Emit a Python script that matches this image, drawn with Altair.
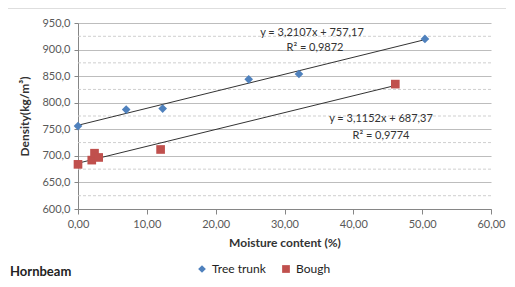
import altair as alt
import pandas as pd

# ---- data ----
trunk_x = [0.0, 7.0, 12.3, 24.8, 32.1, 50.4]
trunk_y = [756, 787, 789, 844, 854, 920]
bough_x = [0.0, 2.0, 2.4, 3.0, 12.0, 46.1]
bough_y = [684, 692, 705, 697, 712, 835]
series = ["Tree trunk", "Bough"]
colors = ["#4F81BD", "#C0504D"]
shapes = ["diamond", "square"]
x_ticks = [0, 10, 20, 30, 40, 50, 60]
y_ticks = [600, 650, 700, 750, 800, 850, 900, 950]
minor_grid = [625, 675, 725, 775, 825, 875, 925]
eq_trunk = ["y = 3,2107x + 757,17", "R² = 0,9872"]
eq_bough = ["y = 3,1152x + 687,37", "R² = 0,9774"]
chart_label = "Hornbeam"

df = pd.DataFrame({
    "x": trunk_x + bough_x,
    "y": trunk_y + bough_y,
    "series": [series[0]] * len(trunk_x) + [series[1]] * len(bough_x),
})
minor_df = pd.DataFrame({"y": minor_grid})

FONT = "Lato"
xscale = alt.Scale(domain=[0, 60], nice=False)
yscale = alt.Scale(domain=[600, 950], nice=False, zero=False)

xaxis = alt.Axis(
    values=x_ticks, title="Moisture content (%)",
    labelExpr="replace(format(datum.value, '.2f'), '.', ',')",
    grid=False, domainColor="#868686", tickColor="#868686", tickSize=5,
    labelFlush=False, labelOverlap=False, labelBound=False,
    labelColor="#595959", labelFont=FONT, labelFontSize=11, labelPadding=4,
    titleFont=FONT, titleFontSize=12, titleFontWeight="bold", titleColor="#333333",
    titlePadding=8,
)
yaxis = alt.Axis(
    values=y_ticks, title="Density(kg/m³)",
    labelExpr="replace(format(datum.value, '.1f'), '.', ',')",
    grid=True, gridColor="#BDBDBD", gridWidth=1,
    labelFlush=False, labelOverlap=False,
    domainColor="#868686", tickColor="#868686", tickSize=4,
    labelColor="#595959", labelFont=FONT, labelFontSize=11, labelPadding=4,
    titleFont=FONT, titleFontSize=12, titleFontWeight="bold", titleColor="#333333",
    titlePadding=10,
)

color = alt.Color("series:N", scale=alt.Scale(domain=series, range=colors),
                  legend=alt.Legend(orient="none", legendX=118, legendY=240,
                                    direction="horizontal", title=None,
                                    labelFont=FONT, labelFontSize=12,
                                    labelColor="#222222", symbolSize=60,
                                    columnPadding=14, symbolStrokeWidth=0))
shape = alt.Shape("series:N", scale=alt.Scale(domain=series, range=shapes))

minor = alt.Chart(minor_df).mark_rule(color="#CFCFCF", strokeDash=[3, 2], strokeWidth=1).encode(
    y=alt.Y("y:Q", scale=yscale, axis=yaxis),
)

base = alt.Chart(df)

trend = base.transform_regression("x", "y", groupby=["series"]).mark_line(
    color="#333333", strokeWidth=1
).encode(
    x=alt.X("x:Q", scale=xscale, axis=xaxis),
    y=alt.Y("y:Q", scale=yscale, axis=yaxis),
    detail="series:N",
)

points = base.mark_point(filled=True, size=75, opacity=1, clip=False).encode(
    x=alt.X("x:Q", scale=xscale, axis=xaxis),
    y=alt.Y("y:Q", scale=yscale, axis=yaxis),
    color=color,
    shape=shape,
)

def txt(s, px, py):
    return alt.Chart(pd.DataFrame({"t": [s]})).mark_text(
        font=FONT, fontSize=11, color="#333333", align="center", baseline="middle"
    ).encode(text="t:N", x=alt.value(px), y=alt.value(py))

annos = [
    txt(eq_trunk[0], 234, 10),
    txt(eq_trunk[1], 237, 25),
    txt(eq_bough[0], 303, 96),
    txt(eq_bough[1], 303, 113),
]

label = alt.Chart(pd.DataFrame({"t": [chart_label]})).mark_text(
    font=FONT, fontSize=13, fontWeight="bold", color="#222222", align="left", baseline="middle"
).encode(text="t:N", x=alt.value(-68), y=alt.value(249))

topline = alt.Chart(pd.DataFrame({"v": [0]})).mark_rule(color="#BDBDBD", strokeWidth=1).encode(
    x=alt.value(-73), x2=alt.value(428), y=alt.value(-15)
)

chart = alt.layer(minor, trend, points, *annos, label, topline).properties(
    width=413, height=186,
    autosize=alt.AutoSizeParams(type="none"),
    padding={"left": 70, "top": 15, "right": 16, "bottom": 70},
).configure_view(stroke=None)

chart.save("out.html", embed_options={"renderer": "svg", "actions": False})
